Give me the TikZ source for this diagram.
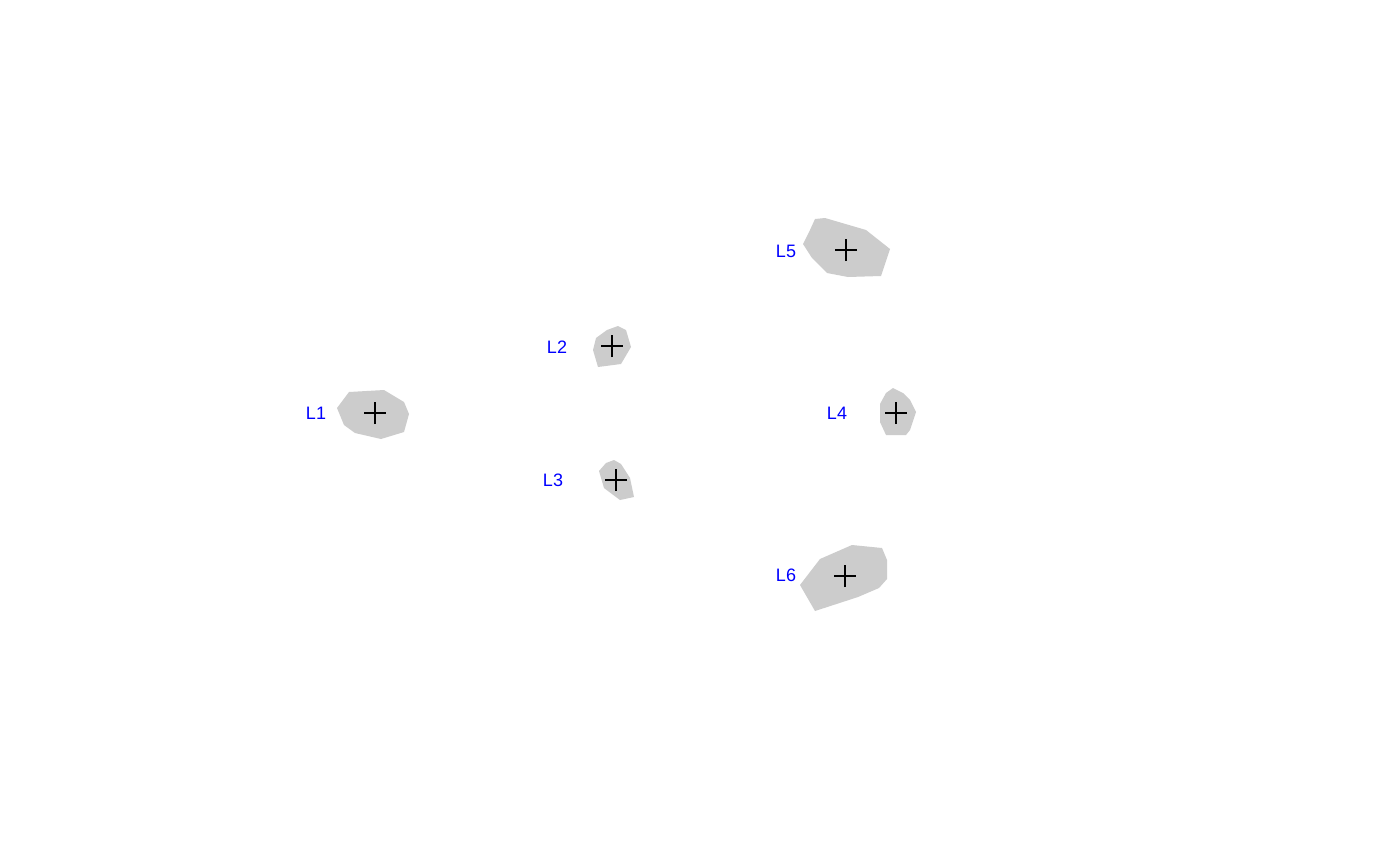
\documentclass[tikz,border=0pt]{standalone}
\usepackage{fontspec}
\setmainfont{Liberation Sans}
\begin{document}
\begin{tikzpicture}[x=1pt,y=-1pt,
  blob/.style={fill=black!20,draw=none},
  lab/.style={text=blue,font=\fontsize{18}{18}\selectfont,inner sep=0pt,anchor=center},
  crs/.style={draw=black,line width=1.6pt}]
\useasboundingbox (0,0) rectangle (1400,865);
\fill[white] (0,0) rectangle (1400,865);
% L5
\fill[blob] (815,219) -- (825,218) -- (866,230) -- (890,249) -- (881,276) -- (848,277) -- (827,273) -- (812,258) -- (803,244) -- (810,230) -- cycle;
% L6
\fill[blob] (852,545) -- (882,548) -- (887,560) -- (887,579) -- (879,588) -- (858,597) -- (815,611) -- (800,585) -- (820,559) -- cycle;
% L1
\fill[blob] (349,392) -- (384,390) -- (404,402) -- (409,414) -- (404,432) -- (381,439) -- (355,433) -- (344,425) -- (337,408) -- cycle;
% L2
\fill[blob] (596,338) -- (607,330) -- (618,326) -- (626,330) -- (631,347) -- (621,364) -- (598,367) -- (593,350) -- cycle;
% L3
\fill[blob] (606,463) -- (614,460) -- (621,464) -- (630,478) -- (634,497) -- (620,500) -- (604,488) -- (599,471) -- cycle;
% L4
\fill[blob] (886,393) -- (893,388) -- (903,393) -- (910,400) -- (916,412) -- (910,430) -- (906,435) -- (886,435) -- (880,422) -- (880,404) -- cycle;
% crosses
\foreach \n/\x/\y in {c5/846/250, c6/845/576, c1/375/413, c2/612/346, c3/616/480, c4/896/413}{
  \coordinate (\n) at (\x,\y);
  \draw[crs] ([xshift=-11pt]\n) -- ([xshift=11pt]\n);
  \draw[crs] ([yshift=-11pt]\n) -- ([yshift=11pt]\n);
}
% labels
\node[lab] (l5) at (786,251) {L5};
\node[lab] (l6) at (786,575) {L6};
\node[lab] (l1) at (316,413) {L1};
\node[lab] (l2) at (557,347) {L2};
\node[lab] (l3) at (553,480) {L3};
\node[lab] (l4) at (837,413) {L4};
\end{tikzpicture}
\end{document}
